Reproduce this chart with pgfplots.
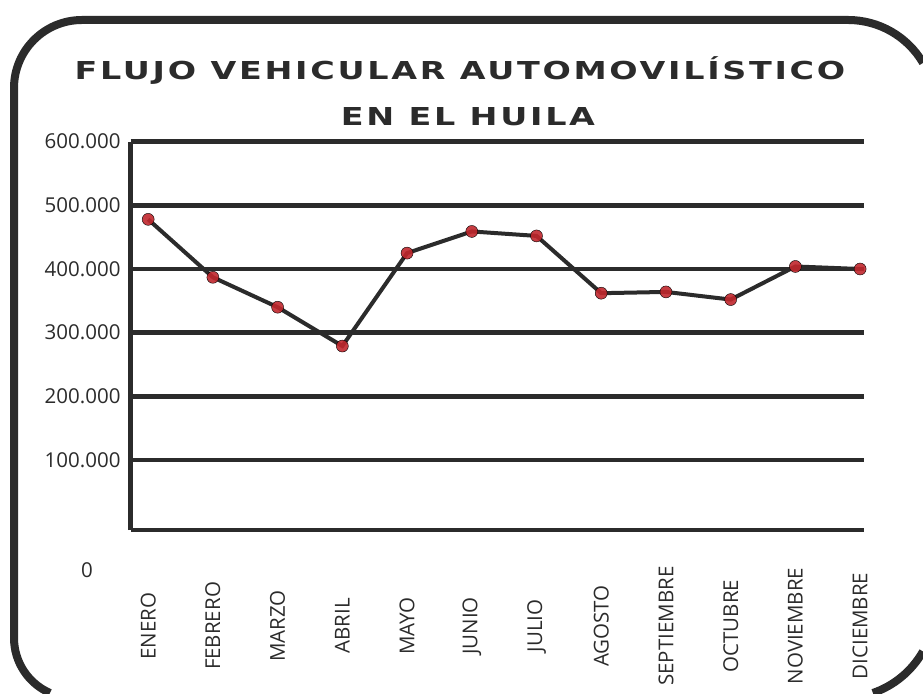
\documentclass[border=0pt]{standalone}
\usepackage{fontspec}
\usepackage{pgfplots}
\pgfplotsset{compat=1.18}
\setmainfont{Open Sans}
\newfontfamily\titlefont[FakeStretch=1.35,LetterSpace=11]{DejaVu Sans}
\definecolor{ink}{HTML}{2B2B2B}
\definecolor{dotred}{HTML}{C0272D}
\begin{document}
\begin{tikzpicture}[x=1pt,y=1pt]
\useasboundingbox (0,0) rectangle (923,693);
\draw[ink, line width=8pt] (923,630.1) arc[start angle=30.45,end angle=90,radius=87]
  -- (82,673) arc[start angle=90,end angle=180,radius=68]
  -- (14,55) arc[start angle=180,end angle=246.4,radius=60];
\draw[ink, line width=8pt] (872.9,0) arc[start angle=-71.0,end angle=-29.6,radius=92];
\node[text=ink, font=\titlefont\bfseries\fontsize{24.7}{30}\selectfont, inner sep=0pt] at (460,622) {FLUJO VEHICULAR AUTOMOVILÍSTICO};
\node[text=ink, font=\titlefont\bfseries\fontsize{24.7}{30}\selectfont, inner sep=0pt] at (468,576) {EN EL HUILA};
\node[text=ink, font=\fontsize{20.5}{24}\selectfont, inner sep=0pt] at (87,123) {0};
\begin{axis}[
  at={(130.7pt,163pt)}, anchor=south west,
  scale only axis, width=733.3pt, height=388.3pt,
  xmin=-0.27, xmax=11.06, ymin=-10000, ymax=600000,
  axis x line=bottom, axis y line=left,
  axis line style={ink, line width=4.5pt, -},
  ymajorgrids, grid style={ink, line width=4.5pt},
  major tick length=0pt,
  clip=false,
  xtick={0,...,11},
  xticklabels={ENERO,FEBRERO,MARZO,ABRIL,MAYO,JUNIO,JULIO,AGOSTO,SEPTIEMBRE,OCTUBRE,NOVIEMBRE,DICIEMBRE},
  ytick={100000,200000,300000,400000,500000,600000},
  yticklabels={100.000,200.000,300.000,400.000,500.000,600.000},
  scaled y ticks=false,
  xticklabel style={yshift=-96pt, rotate=90, anchor=center, inner sep=0pt, text=ink, font=\fontsize{20.5}{24}\selectfont},
  yticklabel style={anchor=east, inner sep=0pt, xshift=-10pt, text=ink, font=\fontsize{20.5}{24}\selectfont},
]
\addplot[only marks, mark=*, mark size=6pt, mark options={fill=dotred, draw=none, fill opacity=0.9}] coordinates {
(0,478000) (1,387000) (2,340000) (3,279000) (4,425000) (5,459000)
(6,452000) (7,362000) (8,364000) (9,352000) (10,404000) (11,400000)};
\addplot[ink, line width=4pt, no marks] coordinates {
(0,478000) (1,387000) (2,340000) (3,279000) (4,425000) (5,459000)
(6,452000) (7,362000) (8,364000) (9,352000) (10,404000) (11,400000)};
\end{axis}
\end{tikzpicture}
\end{document}
